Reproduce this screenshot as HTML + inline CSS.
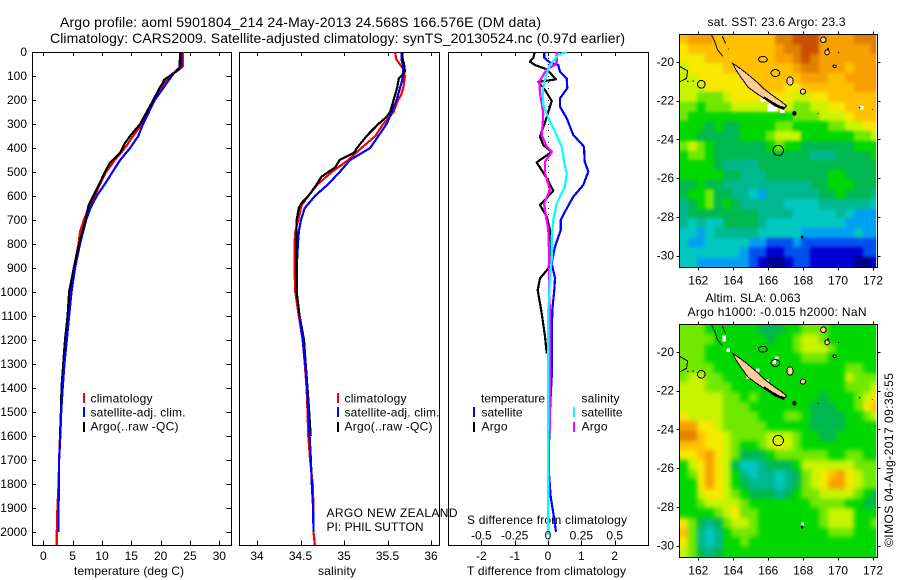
<!DOCTYPE html>
<html>
<head>
<meta charset="utf-8">
<title>Argo profile</title>
<style>
html,body{margin:0;padding:0;background:#fff;width:900px;height:580px;overflow:hidden}
svg{display:block}
text{font-family:"Liberation Sans",sans-serif;font-size:12px;fill:#000}
.t14{font-size:14px}
</style>
</head>
<body>
<svg id="chart" xmlns="http://www.w3.org/2000/svg" width="900" height="580" viewBox="0 0 900 580">
  <defs>
    <filter id="softA" filterUnits="userSpaceOnUse" x="650" y="0" width="250" height="290" color-interpolation-filters="sRGB"><feGaussianBlur stdDeviation="1.6"/></filter>
    <filter id="softB" filterUnits="userSpaceOnUse" x="650" y="290" width="250" height="290" color-interpolation-filters="sRGB"><feGaussianBlur stdDeviation="2.3"/></filter>
  </defs>
  <text class="t14" x="60" y="27" textLength="481" lengthAdjust="spacing">Argo profile: aoml 5901804_214 24-May-2013 24.568S 166.576E (DM data)</text>
  <text class="t14" x="50" y="43" textLength="575" lengthAdjust="spacing">Climatology: CARS2009. Satellite-adjusted climatology: synTS_20130524.nc (0.97d earlier)</text>
  <text x="74" y="575" textLength="110" lengthAdjust="spacing">temperature (deg C)</text>
  <text x="318" y="575" textLength="38" lengthAdjust="spacing">salinity</text>
  <text x="467" y="575" textLength="159" lengthAdjust="spacing">T difference from climatology</text>
  <text x="467" y="524" textLength="160" lengthAdjust="spacing">S difference from climatology</text>
  <text x="326.5" y="517" textLength="131" lengthAdjust="spacing">ARGO NEW ZEALAND</text>
  <text x="326.5" y="531" textLength="97" lengthAdjust="spacing">PI: PHIL SUTTON</text>
  <text x="707.5" y="26" textLength="138" lengthAdjust="spacing">sat. SST: 23.6 Argo: 23.3</text>
  <text x="705.5" y="302" textLength="95" lengthAdjust="spacing">Altim. SLA: 0.063</text>
  <text x="687.5" y="316" textLength="179" lengthAdjust="spacing">Argo h1000: -0.015 h2000: NaN</text>
  <text transform="translate(893 547) rotate(-90)" textLength="174" lengthAdjust="spacing">©IMOS 04-Aug-2017 09:36:55</text>
  <g id="panels"></g>
  <g id="maps"></g>
</svg>
<script>
// ---------- tick labels ----------
var depthTicks = [0,100,200,300,400,500,600,700,800,900,1000,1100,1200,1300,1400,1500,1600,1700,1800,1900,2000];
var tempTicks = [0,5,10,15,20,25,30];
var salTicks = [34,34.5,35,35.5,36];
var tDiffTicks = [-2,-1,0,1,2];
var sDiffTicks = [-0.5,-0.25,0,0.25,0.5];
var lonTicks = [162,164,166,168,170,172];
var latTicks = [-20,-22,-24,-26,-28,-30];

// ---------- profiles: climatology ----------
var climDepth = [0,60,70,90,120,150,200,300,350,400,450,500,550,600,650,700,750,800,900,1000,1100,1200,1300,1400,1500,1600,1700,1800,1900,2000,2056];
var climTemp = [23.8,23.8,23.3,22.05,20.9,20,18.9,16.8,15.3,13.9,12.2,10.7,9.65,8.8,7.7,6.9,6.25,6,5.2,4.65,4.25,3.85,3.4,3.2,3,2.85,2.7,2.6,2.4,2.3,2.3];
var climSalDepth = [0,30,50,70,100,130,150,180,200,250,300,350,400,450,500,550,600,640,700,750,800,900,1000,1100,1200,1300,1400,1500,1600,1700,1800,1900,2000,2056];
var climSal = [35.586,35.6,35.64,35.68,35.7,35.69,35.68,35.655,35.62,35.57,35.45,35.36,35.2,35.05,34.86,34.7,34.59,34.51,34.475,34.44,34.43,34.43,34.44,34.48,34.525,34.55,34.57,34.58,34.59,34.61,34.64,34.65,34.65,34.665];

// ---------- profiles: satellite-adjusted climatology ----------
var satDepth = [0,60,70,90,120,150,200,300,350,400,450,500,550,600,650,700,800,900,1000,1100,1200,1300,1400,1500,1600,1700,1800,1900,2000];
var satTemp = [23.5,23.5,23,22.2,21.3,20.45,19,17,16.2,14.8,13.1,11.8,10.5,9.1,8.05,7.3,6.25,5.4,4.8,4.4,4,3.6,3.3,3.05,2.9,2.7,2.65,2.6,2.6];
var satSalDepth = [0,30,50,100,130,200,250,300,350,400,450,500,550,600,650,700,750,800,900,1000,1100,1200,1300,1400,1500,1600,1700,1800,1900,2000];
var satSal = [35.66,35.66,35.675,35.68,35.66,35.605,35.55,35.49,35.395,35.3,35.07,34.95,34.82,34.667,34.55,34.505,34.48,34.47,34.456,34.456,34.49,34.525,34.555,34.575,34.59,34.605,34.62,34.63,34.645,34.65];

// ---------- profiles: Argo ----------
var argoDepth = [0,70,90,115,130,150,200,300,350,380,420,460,500,550,600,640,700,800,900,1000,1100,1200,1300,1400,1500,1600];
var argoTemp = [23.35,23.2,22.2,20.6,20.35,19.8,18.75,16.5,14.8,13.9,13.1,11.4,10.5,9.55,8.5,7.7,7.2,6.1,5.2,4.4,4.15,3.7,3.4,3.1,3,2.85];
var argoSalDepth = [0,30,50,80,100,110,150,200,250,270,300,350,400,420,450,480,520,560,600,630,650,700,800,900,1000,1100,1200,1300,1400,1500,1600];
var argoSal = [35.67,35.675,35.69,35.7,35.66,35.63,35.61,35.57,35.53,35.49,35.395,35.26,35.15,35.115,34.95,34.9,34.74,34.67,34.59,34.51,34.48,34.455,34.45,34.45,34.456,34.49,34.54,34.56,34.58,34.6,34.617];

// ---------- differences from climatology ----------
var tArgoDepth = [0,24,40,54,72,114,124,158,204,272,353,388,416,460,526,578,638,686,742,867,902,943,992,1006,1089,1186,1256];
var tArgoDiff = [-0.40,-0.44,-0.54,-0.39,-0.04,0.24,-0.29,-0.09,0.11,-0.04,-0.24,-0.14,0.11,-0.34,-0.04,0.16,-0.24,-0.04,0.06,0.06,0.01,-0.24,-0.31,-0.29,-0.19,-0.09,-0.04];
var tSatDepth = [0,24,44,54,82,110,151,193,228,276,346,394,457,498,554,603,665,700,742,811,881,942,992,1075,1200,1353,1464,1575,1742,1853,1922,1999];
var tSatDiff = [-0.11,-0.11,0.06,0.31,0.36,0.56,0.58,0.36,0.36,0.56,0.76,1.08,1.10,1.21,1.06,0.76,0.51,0.38,0.38,0.21,0.11,0.21,0.19,0.13,0.11,0.11,0.07,0.04,0.02,0.08,0.16,0.24];
var sArgoDepth = [0,40,54,72,124,172,256,297,346,394,416,457,506,575,631,686,742,867,1019,1075,1256,1575];
var sArgoDiff = [0.065,0.065,0.0525,-0.01,-0.065,-0.06,-0.035,-0.04,-0.0475,-0.01,0.03,-0.0225,-0.0225,0.015,-0.03,-0.015,0.0025,0.01,0.01,0.015,0.015,0.015];
var sSatDepth = [0,12,54,96,158,221,276,332,394,478,506,561,631,700,770,867,936,1033,1075,1408,1742,1992,2012];
var sSatDiff = [0.14,0.0775,0.015,-0.015,-0.04,-0.035,0.0025,0.0525,0.1025,0.1275,0.14,0.1275,0.065,0.04,0.0275,0.0275,0.015,0.0075,0.0025,0.0025,0.0025,0.0025,0.0025];

// ---------- map colour scale ----------
var mapPalette = ['#00008c','#0000d0','#0050f0','#00a0f0','#00c8c0','#00b890','#00b850','#00d800','#70e800','#c8f400','#f8e800','#ffc000','#f8a000','#e08000','#c85000'];

// ---------- sea surface temperature map, colour levels by 0.5 degree cell ----------
var sstRows = [
[11,12,12,12,11,11,11,11,11,11,11,13,13,14,14,14,12,12,12,12,13,13,13],
[10,11,11,11,11,11,11,11,11,11,11,12,13,13,14,14,12,12,12,12,12,12,13],
[10,10,10,11,11,11,11,11,11,11,11,12,12,13,14,13,12,12,12,12,12,12,12],
[9,10,10,10,10,11,11,11,11,11,11,11,11,12,13,13,12,12,12,11,12,12,12],
[9,9,10,10,10,10,10,10,11,11,11,11,11,11,12,12,12,11,11,12,12,12,12],
[9,9,9,10,10,10,10,10,10,11,11,11,10,10,11,11,11,11,11,11,12,12,12],
[9,9,8,8,8,9,10,10,10,10,10,10,10,9,9,10,10,11,11,11,11,11,11],
[8,8,7,8,8,8,9,9,9,9,9,9,9,8,8,9,9,10,10,11,11,11,11],
[8,7,7,7,7,7,7,7,7,7,7,7,7,8,8,8,9,9,9,10,11,11,11],
[7,7,7,6,7,6,6,7,7,7,7,8,8,7,7,7,7,8,8,9,9,10,10],
[7,7,6,6,6,6,6,7,7,7,8,9,9,9,7,7,7,7,7,7,8,8,9],
[8,9,8,7,6,6,6,6,6,6,7,8,7,7,6,6,6,6,6,6,7,7,7],
[7,8,8,7,6,6,6,6,6,6,6,6,6,6,6,5,5,5,6,6,6,6,7],
[7,7,7,7,6,5,5,5,5,6,6,6,6,6,6,6,6,6,6,6,6,6,6],
[7,7,7,7,7,6,6,5,5,5,6,6,6,6,6,6,6,7,7,6,6,6,6],
[6,6,7,6,6,5,5,5,5,5,5,5,5,5,5,6,6,7,7,7,6,6,6],
[6,7,7,8,6,6,5,5,4,3,5,5,5,5,5,5,6,6,7,6,6,6,5],
[5,6,7,8,6,7,6,5,5,5,5,5,4,4,4,4,5,5,5,5,5,5,4],
[5,6,6,6,6,6,6,6,6,5,5,5,5,4,4,4,4,4,5,4,3,3,3],
[5,4,5,4,4,6,6,6,6,5,4,4,4,4,4,4,4,4,4,3,3,3,3],
[4,4,3,4,5,5,5,5,5,4,4,4,4,4,3,3,3,3,3,3,4,3,3],
[4,3,3,4,4,4,4,4,3,3,2,2,2,3,2,2,2,2,2,2,2,2,2],
[4,4,4,4,4,4,4,3,2,2,1,1,2,2,2,1,1,1,1,1,1,2,2],
[4,4,3,3,3,3,3,3,2,1,0,0,1,2,2,1,1,1,1,1,0,0,1]
];

// ---------- sea level anomaly map, colour levels by 0.5 degree cell ----------
var slaRows = [
[8,8,8,7,7,7,7,7,7,6,6,6,7,7,8,8,8,7,7,7,7,7,7],
[8,8,8,8,7,7,7,7,7,7,6,7,7,8,9,9,8,7,7,7,7,7,7],
[8,8,8,7,7,7,7,7,7,7,7,7,7,8,9,9,9,8,7,7,7,7,7],
[8,8,8,7,7,7,7,7,7,7,7,7,7,7,8,8,8,7,7,7,7,7,7],
[8,8,8,8,7,7,7,7,7,7,7,7,7,7,7,7,7,7,7,8,8,7,7],
[8,9,9,8,8,7,7,7,7,7,7,7,7,7,7,7,7,7,7,9,8,8,8],
[9,9,9,8,8,8,7,7,7,7,7,7,7,7,7,7,7,7,7,8,8,8,9],
[9,9,9,9,9,8,8,7,8,7,7,7,7,7,7,7,6,7,7,7,8,9,10],
[9,9,9,9,9,8,8,8,7,7,7,7,7,7,7,6,6,6,7,7,8,10,11],
[10,9,9,9,9,8,8,8,8,7,7,7,8,8,7,6,6,6,6,7,7,8,9],
[12,12,10,10,9,8,8,8,8,8,7,7,7,7,7,6,6,6,6,7,7,7,7],
[13,13,11,10,10,9,8,8,8,8,9,9,9,8,7,7,6,6,7,7,7,7,7],
[11,11,11,10,10,9,8,7,7,8,9,10,9,8,7,7,7,7,7,7,7,7,7],
[10,10,11,12,10,9,8,6,6,6,7,8,8,8,8,8,8,7,7,8,8,7,7],
[7,9,10,12,10,9,6,4,4,5,6,6,6,7,9,9,9,9,9,9,8,8,8],
[7,8,10,12,10,9,7,5,4,5,5,4,5,6,8,9,10,11,12,10,9,8,8],
[7,7,10,12,10,9,7,6,5,5,5,4,5,6,8,9,10,12,12,10,9,8,8],
[7,7,9,10,10,9,8,7,6,6,6,5,6,7,8,8,9,9,9,9,8,7,6],
[7,7,8,9,9,9,9,8,7,7,7,7,7,7,7,8,8,8,8,7,7,6,6],
[7,7,7,7,8,9,10,8,8,7,7,7,7,7,7,7,8,9,9,9,7,7,7],
[10,8,6,5,6,8,9,9,8,7,7,7,7,7,7,7,8,9,9,9,7,7,8],
[11,8,5,4,5,7,8,8,8,7,7,7,7,7,7,7,7,8,8,8,7,7,7],
[10,8,5,4,5,7,7,8,7,7,7,7,7,7,7,7,7,7,7,7,7,7,7],
[9,8,6,5,6,7,7,7,7,7,7,7,7,7,7,7,7,7,7,7,7,7,7]
];

// ---------- geography shown on the maps (lon, lat) ----------
var mainIslandLon = [163.97,164.39,164.81,165.34,165.72,166.20,166.77,167.06,166.87,166.39,165.91,165.34,164.86,164.48,164.16];
var mainIslandLat = [-20.07,-20.33,-20.62,-21.02,-21.36,-21.70,-22.05,-22.27,-22.44,-22.27,-21.96,-21.62,-21.31,-20.84,-20.41];
var swCoastLon = [165.75,166.2,166.6,166.95];
var swCoastLat = [-21.82,-22.1,-22.3,-22.4];
var reefOneLon = [162.76,162.95,163.09,163.39];
var reefOneLat = [-18.61,-18.95,-19.35,-19.69];
var reefTwoLon = [163.37,163.56];
var reefTwoLat = [-18.66,-19.04];
var reefThreeLon = [160.95,161.39,161.33,160.95];
var reefThreeLat = [-20.24,-20.46,-20.84,-21.02];
var islandLon = [167.25,167.99,169.16,169.37,169.80];
var islandLat = [-20.98,-21.53,-18.85,-19.50,-20.22];
var islandRadLon = [0.18,0.15,0.16,0.13,0.09];
var islandRadLat = [0.22,0.13,0.15,0.13,0.06];
var atollLon = [165.70,166.41,162.17];
var atollLat = [-19.86,-20.57,-21.15];
var atollRadLon = [0.25,0.25,0.22];
var atollRadLat = [0.15,0.18,0.20];
var rockLon = [167.50,167.95,169.43,170.03,171.24,171.96,168.85,163.72,161.4,161.7];
var rockLat = [-22.65,-29.04,-19.32,-19.51,-22.36,-22.45,-22.65,-19.33,-21.0,-20.98];
var rockRad = [0.12,0.08,0.05,0.04,0.04,0.03,0.03,0.03,0.04,0.04];
var sstGapLon = [166.25,166.8,165.7,171.35];
var sstGapLat = [-22.35,-22.35,-21.95,-22.35];
var sstGapWide = [0.55,0.25,0.3,0.2];
var sstGapTall = [0.4,0.55,0.22,0.18];
var slaGapLon = [163.48,163.72,165.4,164.87,165.95,166.35,166.5,167.98];
var slaGapLat = [-19.3,-19.9,-20.95,-21.3,-21.5,-20.5,-20.3,-28.9];
var slaGapWide = [0.2,0.2,0.2,0.2,0.2,0.2,0.2,0.15];
var slaGapTall = [0.3,0.18,0.18,0.18,0.18,0.22,0.12,0.2];
var profileLon = [166.576];
var profileLat = [-24.568];

var NS = 'http://www.w3.org/2000/svg';
var panels = document.getElementById('panels');
var maps = document.getElementById('maps');

function mk(tag, parent) {
  var el = document.createElementNS(NS, tag);
  parent.appendChild(el);
  return el;
}
function set(el, map) {
  for (var k in map) el.setAttribute(k, map[k]);
  return el;
}

// ---------- axis functions ----------
function depthY(d) { return 52 + 0.24 * d; }
function tempX(t) { return 43.3 + 5.867 * t; }
function salX(s) { return 257 + 87 * (s - 34); }
function tDiffX(v) { return 548 + 33.33 * v; }
function sDiffX(v) { return 548 + 133.33 * v; }

function pointsOf(xs, ys, xf, yf) {
  var out = [];
  for (var i = 0; i < xs.length; i++) out.push(xf(xs[i]).toFixed(1) + ',' + yf(ys[i]).toFixed(1));
  return out.join(' ');
}

function drawPanel(group, left, right, bottomTicks, xf, topTicks, topF, showDepth) {
  var bottom = 545.5, top = 52.5;
  var i, x, y, t;
  var frame = mk('rect', group);
  
  
  set(frame, {x: left, y: top, width: right - left, height: bottom - top, fill: 'none', stroke: '#000', 'stroke-width': 1, 'shape-rendering': 'crispEdges'});
  for (i = 0; i < bottomTicks.length; i++) {
    x = Math.round(xf(bottomTicks[i])) + 0.5;
    t = mk('line', group);
    
    
    set(t, {x1: x, x2: x, y1: bottom, y2: bottom - 5, stroke: '#000', 'shape-rendering': 'crispEdges'});
  }
  for (i = 0; i < topTicks.length; i++) {
    x = Math.round(topF(topTicks[i])) + 0.5;
    t = mk('line', group);
    
    
    set(t, {x1: x, x2: x, y1: top, y2: top + 3.5, stroke: '#000', 'shape-rendering': 'crispEdges'});
  }
  for (i = 0; i < bottomTicks.length; i++) {
    t = mk('text', group);
    
    
    set(t, {x: xf(bottomTicks[i]), y: 560, 'text-anchor': 'middle'});
    t.textContent = bottomTicks[i];
  }
  if (showDepth) {
    for (i = 0; i < depthTicks.length; i++) {
      y = Math.round(depthY(depthTicks[i])) + 0.5;
      t = mk('line', group);
      
      
      set(t, {x1: left, x2: left + 3.5, y1: y, y2: y, stroke: '#000', 'shape-rendering': 'crispEdges'});
      t = mk('line', group);
      
      
      set(t, {x1: right, x2: right - 5, y1: y, y2: y, stroke: '#000', 'shape-rendering': 'crispEdges'});
      t = mk('text', group);
      
      
      set(t, {x: 27, y: depthY(depthTicks[i]) + 4, 'text-anchor': 'end'});
      t.textContent = depthTicks[i];
    }
  }
}

function drawLine(group, xs, ds, xf, color) {
  var p = mk('polyline', group);
  set(p, {points: pointsOf(xs, ds, xf, depthY), fill: 'none', stroke: color, 'stroke-width': 2.2, 'shape-rendering': 'crispEdges', 'stroke-linejoin': 'round'});
  return p;
}

function drawKey(group, x, y, color) {
  var k = mk('rect', group);
  set(k, {x: x, y: y, width: 2, height: 10, fill: color, 'shape-rendering': 'crispEdges'});
  return k;
}
function drawLabel(group, x, y, str, w) {
  var l = mk('text', group);
  set(l, {x: x, y: y, textLength: w, lengthAdjust: 'spacing'});
  l.textContent = str;
  return l;
}

// ---------- temperature panel ----------
var g1 = mk('g', panels);


drawPanel(g1, 32.5, 231.5, tempTicks, tempX, tempTicks, tempX, true);
var l1 = drawLine(g1, climTemp, climDepth, tempX, '#ff0000');


var l2 = drawLine(g1, satTemp, satDepth, tempX, '#0000ff');


var l3 = drawLine(g1, argoTemp, argoDepth, tempX, '#000000');


var l2b = drawLine(g1, satTemp.slice(17), satDepth.slice(17), tempX, '#0000ff');



// ---------- salinity panel ----------
var g2 = mk('g', panels);


drawPanel(g2, 239.5, 439.5, salTicks, salX, salTicks, salX, false);
var l4 = drawLine(g2, climSal, climSalDepth, salX, '#ff0000');


var l5 = drawLine(g2, satSal, satSalDepth, salX, '#0000ff');


var l6 = drawLine(g2, argoSal, argoSalDepth, salX, '#000000');


var l5b = drawLine(g2, satSal.slice(20), satSalDepth.slice(20), salX, '#0000ff');



// ---------- difference panel ----------
var g3 = mk('g', panels);


drawPanel(g3, 448.5, 648.5, tDiffTicks, tDiffX, tDiffTicks, tDiffX, false);
var zeroLine = mk('line', g3);


set(zeroLine, {x1: tDiffX(0) + 0.5, x2: tDiffX(0) + 0.5, y1: 52, y2: 545, stroke: '#000', 'stroke-dasharray': '1 5', 'shape-rendering': 'crispEdges'});
var l7 = drawLine(g3, tArgoDiff, tArgoDepth, tDiffX, '#000000');


var l8 = drawLine(g3, tSatDiff, tSatDepth, tDiffX, '#0000ff');


var l9 = drawLine(g3, sArgoDiff, sArgoDepth, sDiffX, '#ff00ff');


var l10 = drawLine(g3, sSatDiff, sSatDepth, sDiffX, '#00ffff');


for (var si = 0; si < sDiffTicks.length; si++) {
  var st = mk('text', g3);
  
  
  set(st, {x: sDiffX(sDiffTicks[si]), y: 539.5, 'text-anchor': 'middle'});
  st.textContent = sDiffTicks[si];
}

// ---------- legends ----------
var legT = mk('g', panels);


var k;
k = drawKey(legT, 83, 393, '#ff0000');


k = drawLabel(legT, 90.5, 402.7, 'climatology', 62);


k = drawKey(legT, 83, 407, '#0000ff');


k = drawLabel(legT, 90.5, 416.7, 'satellite-adj. clim.', 95);


k = drawKey(legT, 83, 422, '#000000');


k = drawLabel(legT, 90.5, 430.7, 'Argo(..raw -QC)', 88);



var legS = mk('g', panels);


k = drawKey(legS, 337, 393, '#ff0000');


k = drawLabel(legS, 344.5, 402.7, 'climatology', 62);


k = drawKey(legS, 337, 407, '#0000ff');


k = drawLabel(legS, 344.5, 416.7, 'satellite-adj. clim.', 95);


k = drawKey(legS, 337, 422, '#000000');


k = drawLabel(legS, 344.5, 430.7, 'Argo(..raw -QC)', 88);



var legD = mk('g', panels);


k = drawLabel(legD, 481, 402.7, 'temperature', 64);


k = drawKey(legD, 473, 407, '#0000ff');


k = drawLabel(legD, 481.5, 416.7, 'satellite', 41);


k = drawKey(legD, 473, 422, '#000000');


k = drawLabel(legD, 481.5, 430.7, 'Argo', 26);


k = drawLabel(legD, 581.5, 402.7, 'salinity', 38);


k = drawKey(legD, 573, 407, '#00ffff');


k = drawLabel(legD, 581.5, 416.7, 'satellite', 41);


k = drawKey(legD, 573, 422, '#ff00ff');


k = drawLabel(legD, 581.5, 430.7, 'Argo', 26);



// ---------- maps ----------
function lonX(lon) { return 698.3 + (lon - 162) * 17.47; }

function drawMap(group, id, filterId, latY, rows, gapLon, gapLat, gapWide, gapTall) {
  var left = 679.5, right = 877.5;
  var top = Math.round(latY(-18.57)) + 0.5, bottom = Math.round(latY(-30.57)) + 0.5;
  var clip = mk('clipPath', group);
  clip.setAttribute('id', id);
  var cr = mk('rect', clip);
  set(cr, {x: left, y: top, width: 196.7, height: bottom - top});
  var field = mk('g', group);
  field.setAttribute('clip-path', 'url(#' + id + ')');
  
  
  var heat = mk('g', field);
  heat.setAttribute('filter', 'url(#' + filterId + ')');
  
  
  var r, c, cell, x0, x1, y0, y1;
  for (r = 0; r < rows.length; r++) {
    for (c = 0; c < rows[r].length; c++) {
      x0 = Math.round(lonX(160.9 + c * 0.5));
      x1 = Math.round(lonX(160.9 + (c + 1) * 0.5));
      y0 = Math.round(latY(-18.57 - r * 0.5));
      y1 = Math.round(latY(-18.57 - (r + 1) * 0.5));
      if (c === 0) x0 -= 10;
      if (c === rows[r].length - 1) x1 += 10;
      if (r === 0) y0 -= 10;
      if (r === rows.length - 1) y1 += 10;
      cell = mk('rect', heat);
      
      
      set(cell, {x: x0, y: y0, width: x1 - x0, height: y1 - y0, fill: mapPalette[rows[r][c]], 'shape-rendering': 'crispEdges'});
    }
  }
  var i, s;
  for (i = 0; i < gapLon.length; i++) {
    s = mk('rect', field);
    
    
    set(s, {x: lonX(gapLon[i] - gapWide[i] / 2), y: latY(gapLat[i] + gapTall[i] / 2), width: gapWide[i] * 17.47, height: gapTall[i] * 19.37, fill: '#fff', 'shape-rendering': 'crispEdges'});
  }
  s = mk('polygon', field);
  
  
  set(s, {points: pointsOf(mainIslandLon, mainIslandLat, lonX, latY), fill: '#ffcc99', stroke: '#000', 'stroke-width': 1, 'shape-rendering': 'crispEdges'});
  s = mk('polyline', field);
  
  
  set(s, {points: pointsOf(swCoastLon, swCoastLat, lonX, latY), fill: 'none', stroke: '#000', 'stroke-width': 2.5, 'shape-rendering': 'crispEdges'});
  var reefsLon = [reefOneLon, reefTwoLon, reefThreeLon];
  var reefsLat = [reefOneLat, reefTwoLat, reefThreeLat];
  for (i = 0; i < reefsLon.length; i++) {
    s = mk('polyline', field);
    
    
    set(s, {points: pointsOf(reefsLon[i], reefsLat[i], lonX, latY), fill: 'none', stroke: '#000', 'stroke-width': 1, 'shape-rendering': 'crispEdges'});
  }
  for (i = 0; i < islandLon.length; i++) {
    s = mk('ellipse', field);
    
    
    set(s, {cx: lonX(islandLon[i]), cy: latY(islandLat[i]), rx: islandRadLon[i] * 17.47, ry: islandRadLat[i] * 19.37, fill: '#ffcc99', stroke: '#000', 'stroke-width': 1, 'shape-rendering': 'crispEdges'});
  }
  for (i = 0; i < atollLon.length; i++) {
    s = mk('ellipse', field);
    
    
    set(s, {cx: lonX(atollLon[i]), cy: latY(atollLat[i]), rx: atollRadLon[i] * 17.47, ry: atollRadLat[i] * 19.37, fill: 'none', stroke: '#000', 'stroke-width': 1, 'shape-rendering': 'crispEdges'});
  }
  for (i = 0; i < rockLon.length; i++) {
    s = mk('ellipse', field);
    
    
    set(s, {cx: lonX(rockLon[i]), cy: latY(rockLat[i]), rx: rockRad[i] * 17.47, ry: rockRad[i] * 19.37, fill: '#000'});
  }
  s = mk('circle', field);
  
  
  set(s, {cx: lonX(profileLon[0]), cy: latY(profileLat[0]), r: 5.2, fill: 'none', stroke: '#000', 'stroke-width': 1, 'shape-rendering': 'crispEdges'});

  var frame = mk('rect', group);
  
  
  set(frame, {x: left, y: top, width: right - left, height: bottom - top, fill: 'none', stroke: '#000', 'shape-rendering': 'crispEdges'});
  var x, y, t;
  for (i = 0; i < lonTicks.length; i++) {
    x = Math.round(lonX(lonTicks[i])) + 0.5;
    t = mk('line', group);
    
    
    set(t, {x1: x, x2: x, y1: top, y2: top - 3, stroke: '#000', 'shape-rendering': 'crispEdges'});
    t = mk('line', group);
    
    
    set(t, {x1: x, x2: x, y1: bottom, y2: bottom + 3, stroke: '#000', 'shape-rendering': 'crispEdges'});
    t = mk('text', group);
    
    
    set(t, {x: lonX(lonTicks[i]), y: bottom + 17, 'text-anchor': 'middle'});
    t.textContent = lonTicks[i];
  }
  for (i = 0; i < latTicks.length; i++) {
    y = Math.round(latY(latTicks[i])) + 0.5;
    t = mk('line', group);
    
    
    set(t, {x1: left, x2: left - 3, y1: y, y2: y, stroke: '#000', 'shape-rendering': 'crispEdges'});
    t = mk('line', group);
    
    
    set(t, {x1: right, x2: right + 3, y1: y, y2: y, stroke: '#000', 'shape-rendering': 'crispEdges'});
    t = mk('text', group);
    
    
    set(t, {x: 674, y: latY(latTicks[i]) + 4, 'text-anchor': 'end'});
    t.textContent = latTicks[i];
  }
}

function sstLatY(lat) { return 62 + (-20 - lat) * 19.37; }
function slaLatY(lat) { return 352 + (-20 - lat) * 19.37; }

var mapA = mk('g', maps);


drawMap(mapA, 'clipA', 'softA', sstLatY, sstRows, sstGapLon, sstGapLat, sstGapWide, sstGapTall);
var mapB = mk('g', maps);


drawMap(mapB, 'clipB', 'softB', slaLatY, slaRows, slaGapLon, slaGapLat, slaGapWide, slaGapTall);
</script>
</body>
</html>
